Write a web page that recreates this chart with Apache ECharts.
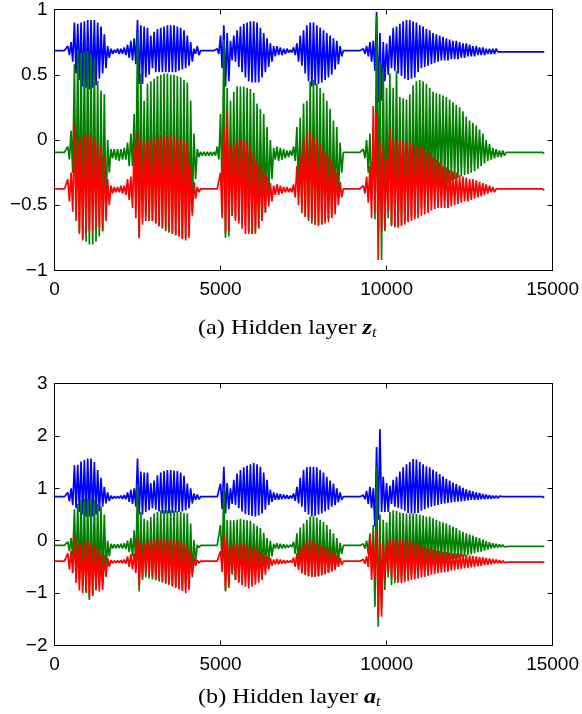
<!DOCTYPE html>
<html>
<head>
<meta charset="utf-8">
<script src="https://cdn.jsdelivr.net/npm/echarts@6/dist/echarts.min.js"></script>
<style>html,body{margin:0;padding:0;background:#fff}#c{width:582px;height:714px}</style>
</head>
<body>
<div id="c"></div>
<script>
// Envelope readings (upper / lower swing of each oscillation) every STEP samples, 0..14700
const STEP = 100;
const xTicks = [0, 5000, 10000, 15000];
const yTicksA = [-1, -0.5, 0, 0.5, 1];
const yTicksB = [-2, -1, 0, 1, 2, 3];
const captionA = ['(a) Hidden layer ', 'z', 't'];
const captionB = ['(b) Hidden layer ', 'a', 't'];

// Panel (a): hidden layer z_t
const zBlueHi = [0.685,0.685,0.685,0.685,0.72,0.75,0.90,0.89,0.90,0.91,
0.92,0.92,0.92,0.90,0.87,0.81,0.72,0.70,0.69,0.70,
0.70,0.71,0.73,0.76,0.78,0.92,0.88,0.87,0.86,0.80,
0.83,0.85,0.86,0.87,0.88,0.88,0.88,0.87,0.86,0.84,
0.80,0.75,0.70,0.72,0.685,0.685,0.685,0.685,0.685,0.70,
0.80,0.88,0.82,0.76,0.80,0.84,0.87,0.89,0.90,0.91,
0.91,0.90,0.86,0.82,0.78,0.74,0.72,0.72,0.71,0.70,
0.70,0.69,0.71,0.74,0.80,0.84,0.88,0.90,0.90,0.88,
0.86,0.84,0.82,0.80,0.78,0.76,0.72,0.685,0.685,0.685,
0.685,0.685,0.685,0.70,0.72,0.75,0.76,0.98,0.82,0.75,
0.74,0.80,0.86,0.87,0.89,0.91,0.92,0.92,0.91,0.90,
0.88,0.87,0.85,0.84,0.82,0.81,0.80,0.79,0.78,0.77,
0.76,0.76,0.75,0.74,0.74,0.73,0.72,0.72,0.71,0.71,
0.70,0.70,0.70,0.70,0.685,0.685,0.685,0.685,0.685,0.685,
0.685,0.685,0.685,0.685,0.685,0.685,0.685,0.685];
const zBlueLo = [0.675,0.675,0.675,0.675,0.65,0.60,0.51,0.46,0.41,0.40,
0.39,0.40,0.42,0.47,0.51,0.55,0.63,0.66,0.67,0.66,
0.66,0.65,0.63,0.61,0.58,0.43,0.43,0.48,0.50,0.55,
0.52,0.52,0.52,0.52,0.52,0.52,0.52,0.53,0.54,0.55,
0.57,0.60,0.66,0.65,0.675,0.675,0.675,0.675,0.675,0.66,
0.55,0.41,0.45,0.61,0.60,0.56,0.52,0.48,0.45,0.44,
0.44,0.44,0.48,0.52,0.56,0.60,0.64,0.65,0.65,0.66,
0.67,0.67,0.65,0.60,0.57,0.51,0.45,0.41,0.42,0.43,
0.44,0.46,0.48,0.50,0.54,0.58,0.64,0.675,0.675,0.675,
0.675,0.675,0.675,0.66,0.64,0.60,0.53,0.29,0.30,0.45,
0.50,0.55,0.53,0.51,0.49,0.47,0.46,0.47,0.48,0.52,
0.55,0.56,0.57,0.58,0.59,0.60,0.61,0.61,0.61,0.62,
0.62,0.62,0.63,0.63,0.64,0.64,0.64,0.65,0.65,0.65,
0.66,0.66,0.66,0.675,0.675,0.675,0.675,0.675,0.675,0.675,
0.675,0.675,0.675,0.675,0.675,0.675,0.675,0.675];
const zGreenHi = [-0.095,-0.095,-0.095,-0.095,-0.05,0.07,0.58,0.69,0.67,0.68,
0.68,0.66,0.62,0.45,0.38,0.35,0.00,-0.07,-0.07,-0.07,
-0.07,-0.06,-0.02,0.05,0.20,0.82,0.51,0.30,0.43,0.45,
0.47,0.49,0.50,0.51,0.51,0.50,0.50,0.49,0.48,0.46,
0.44,0.30,0.05,-0.07,-0.09,-0.09,-0.09,-0.09,-0.09,-0.05,
0.20,0.77,0.40,0.30,0.37,0.41,0.41,0.41,0.40,0.39,
0.36,0.28,0.24,0.20,0.10,0.00,-0.06,-0.05,-0.06,-0.07,
-0.08,-0.08,-0.05,0.10,0.17,0.28,0.30,0.45,0.46,0.43,
0.40,0.36,0.30,0.24,0.15,0.10,-0.02,-0.095,-0.095,-0.095,
-0.095,-0.095,-0.095,-0.07,0.00,0.05,0.00,0.95,0.60,0.55,
0.40,0.51,0.40,0.53,0.33,0.32,0.31,0.35,0.42,0.45,
0.46,0.45,0.43,0.40,0.37,0.36,0.35,0.34,0.33,0.31,
0.29,0.27,0.25,0.22,0.18,0.15,0.13,0.11,0.08,0.05,
0.00,-0.03,-0.06,-0.07,-0.08,-0.08,-0.095,-0.095,-0.095,-0.095,
-0.095,-0.095,-0.095,-0.095,-0.095,-0.095,-0.095,-0.095];
const zGreenLo = [-0.105,-0.105,-0.105,-0.105,-0.15,-0.25,-0.55,-0.70,-0.75,-0.78,
-0.80,-0.80,-0.78,-0.74,-0.70,-0.60,-0.25,-0.14,-0.15,-0.16,
-0.15,-0.15,-0.20,-0.20,-0.45,-0.75,-0.60,-0.58,-0.62,-0.62,
-0.64,-0.66,-0.68,-0.70,-0.71,-0.72,-0.73,-0.74,-0.75,-0.75,
-0.72,-0.55,-0.30,-0.13,-0.12,-0.12,-0.12,-0.12,-0.12,-0.15,
-0.40,-0.75,-0.74,-0.58,-0.60,-0.62,-0.64,-0.66,-0.70,-0.72,
-0.72,-0.68,-0.62,-0.55,-0.45,-0.30,-0.15,-0.16,-0.15,-0.14,
-0.13,-0.12,-0.16,-0.40,-0.50,-0.58,-0.62,-0.64,-0.65,-0.65,
-0.64,-0.62,-0.60,-0.58,-0.52,-0.45,-0.25,-0.105,-0.105,-0.105,
-0.105,-0.105,-0.105,-0.14,-0.25,-0.45,-0.61,-0.50,-0.92,-0.70,
-0.60,-0.66,-0.67,-0.67,-0.65,-0.63,-0.62,-0.60,-0.58,-0.56,
-0.53,-0.51,-0.48,-0.46,-0.43,-0.40,-0.37,-0.35,-0.33,-0.31,
-0.30,-0.29,-0.28,-0.27,-0.26,-0.25,-0.24,-0.22,-0.20,-0.18,
-0.16,-0.15,-0.14,-0.13,-0.13,-0.12,-0.105,-0.105,-0.105,-0.105,
-0.105,-0.105,-0.105,-0.105,-0.105,-0.105,-0.105,-0.105];
const zRedHi = [-0.375,-0.375,-0.375,-0.375,-0.30,-0.25,0.12,0.00,0.02,0.05,
0.04,0.04,0.00,-0.02,-0.05,-0.12,-0.30,-0.35,-0.36,-0.36,
-0.35,-0.35,-0.30,-0.28,-0.05,0.07,0.00,-0.02,0.00,0.00,
0.01,0.02,0.02,0.03,0.03,0.03,0.02,0.02,0.01,0.00,
-0.02,-0.20,-0.32,-0.36,-0.375,-0.375,-0.375,-0.375,-0.375,-0.375,
-0.25,0.10,0.23,-0.05,-0.03,0.00,0.00,0.00,-0.02,-0.05,
-0.10,-0.16,-0.20,-0.24,-0.28,-0.33,-0.35,-0.34,-0.35,-0.36,
-0.36,-0.37,-0.34,-0.20,-0.12,0.00,0.05,0.07,0.03,0.00,
-0.03,-0.07,-0.10,-0.14,-0.18,-0.25,-0.32,-0.375,-0.375,-0.375,
-0.375,-0.375,-0.375,-0.35,-0.28,-0.20,0.26,0.20,0.00,-0.05,
-0.15,0.10,0.00,0.00,0.00,-0.01,-0.01,-0.02,-0.03,-0.04,
-0.05,-0.06,-0.08,-0.10,-0.13,-0.15,-0.17,-0.20,-0.21,-0.23,
-0.24,-0.25,-0.27,-0.28,-0.29,-0.30,-0.30,-0.31,-0.32,-0.33,
-0.34,-0.35,-0.36,-0.375,-0.375,-0.375,-0.375,-0.375,-0.375,-0.375,
-0.375,-0.375,-0.375,-0.375,-0.375,-0.375,-0.375,-0.375];
const zRedLo = [-0.385,-0.385,-0.385,-0.385,-0.47,-0.55,-0.62,-0.72,-0.77,-0.72,
-0.70,-0.70,-0.68,-0.67,-0.70,-0.62,-0.50,-0.41,-0.40,-0.40,
-0.41,-0.42,-0.46,-0.52,-0.60,-0.75,-0.65,-0.62,-0.62,-0.62,
-0.64,-0.66,-0.67,-0.68,-0.70,-0.71,-0.73,-0.74,-0.76,-0.77,
-0.75,-0.58,-0.45,-0.40,-0.385,-0.385,-0.385,-0.385,-0.385,-0.385,
-0.60,-0.72,-0.70,-0.58,-0.62,-0.64,-0.68,-0.72,-0.72,-0.72,
-0.70,-0.67,-0.62,-0.56,-0.51,-0.47,-0.42,-0.42,-0.41,-0.40,
-0.40,-0.40,-0.44,-0.50,-0.56,-0.59,-0.60,-0.62,-0.65,-0.66,
-0.65,-0.64,-0.63,-0.60,-0.57,-0.50,-0.44,-0.385,-0.385,-0.385,
-0.385,-0.385,-0.385,-0.41,-0.48,-0.60,-0.55,-0.92,-0.70,-0.68,
-0.55,-0.65,-0.66,-0.67,-0.66,-0.65,-0.63,-0.62,-0.61,-0.60,
-0.58,-0.57,-0.56,-0.54,-0.53,-0.52,-0.52,-0.52,-0.52,-0.51,
-0.50,-0.49,-0.48,-0.47,-0.47,-0.46,-0.45,-0.44,-0.43,-0.42,
-0.41,-0.40,-0.40,-0.385,-0.385,-0.385,-0.385,-0.385,-0.385,-0.385,
-0.385,-0.385,-0.385,-0.385,-0.385,-0.385,-0.385,-0.385];

// Panel (b): hidden layer a_t
const aBlueHi = [0.84,0.84,0.84,0.84,0.92,1.00,1.44,1.45,1.51,1.54,
1.57,1.57,1.50,1.35,1.20,1.03,0.92,0.86,0.85,0.85,
0.86,0.87,0.92,0.97,1.00,1.57,1.32,1.30,1.30,1.10,
1.15,1.25,1.30,1.33,1.35,1.35,1.34,1.33,1.30,1.24,
1.09,1.00,0.90,0.88,0.84,0.84,0.84,0.84,0.84,0.84,
1.09,1.41,1.10,1.00,1.16,1.28,1.35,1.40,1.43,1.46,
1.48,1.46,1.41,1.30,1.16,0.97,0.92,0.90,0.89,0.88,
0.87,0.86,0.90,1.03,1.20,1.35,1.40,1.41,1.41,1.40,
1.35,1.30,1.22,1.15,1.09,1.00,0.92,0.84,0.84,0.84,
0.84,0.84,0.84,0.87,0.95,1.03,1.00,1.79,2.13,1.22,
1.10,1.05,1.16,1.22,1.32,1.40,1.46,1.50,1.56,1.55,
1.50,1.46,1.42,1.40,1.36,1.32,1.27,1.23,1.18,1.15,
1.11,1.08,1.05,1.01,0.98,0.96,0.94,0.92,0.91,0.89,
0.88,0.87,0.86,0.86,0.85,0.84,0.84,0.84,0.84,0.84,
0.84,0.84,0.84,0.84,0.84,0.84,0.84,0.84];
const aBlueLo = [0.82,0.82,0.82,0.82,0.75,0.68,0.62,0.55,0.50,0.46,
0.46,0.46,0.50,0.56,0.65,0.71,0.76,0.80,0.81,0.81,
0.80,0.79,0.74,0.70,0.65,0.50,0.50,0.55,0.58,0.62,
0.59,0.56,0.52,0.52,0.52,0.53,0.54,0.55,0.56,0.58,
0.62,0.71,0.78,0.79,0.82,0.82,0.82,0.82,0.82,0.82,
0.60,0.52,0.60,0.70,0.68,0.62,0.56,0.51,0.49,0.47,
0.46,0.48,0.52,0.59,0.68,0.74,0.78,0.78,0.79,0.80,
0.80,0.81,0.76,0.71,0.65,0.55,0.50,0.46,0.47,0.50,
0.52,0.56,0.59,0.65,0.68,0.73,0.78,0.82,0.82,0.82,
0.82,0.82,0.82,0.79,0.70,0.62,0.27,0.40,0.55,0.55,
0.55,0.70,0.65,0.63,0.60,0.57,0.53,0.52,0.52,0.53,
0.57,0.60,0.63,0.65,0.67,0.68,0.70,0.71,0.72,0.73,
0.74,0.745,0.75,0.76,0.77,0.78,0.78,0.78,0.79,0.79,
0.80,0.80,0.81,0.81,0.82,0.82,0.82,0.82,0.82,0.82,
0.82,0.82,0.82,0.82,0.82,0.82,0.82,0.82];
const aGreenHi = [-0.09,-0.09,-0.09,-0.09,-0.02,0.05,0.60,0.70,0.78,0.80,
0.81,0.80,0.78,0.70,0.65,0.50,0.00,-0.06,-0.07,-0.07,
-0.06,-0.05,0.00,0.05,0.20,1.09,0.55,0.42,0.39,0.45,
0.52,0.55,0.58,0.58,0.58,0.58,0.57,0.56,0.55,0.53,
0.52,0.33,0.01,-0.08,-0.09,-0.09,-0.09,-0.09,-0.09,-0.09,
0.30,1.03,0.40,0.39,0.39,0.40,0.42,0.40,0.39,0.38,
0.33,0.28,0.24,0.15,0.05,0.00,-0.06,-0.05,-0.06,-0.07,
-0.08,-0.08,-0.02,0.14,0.25,0.33,0.40,0.46,0.46,0.44,
0.40,0.36,0.30,0.22,0.14,0.05,-0.04,-0.09,-0.09,-0.09,
-0.09,-0.09,-0.09,-0.06,0.00,0.10,0.30,1.41,0.50,0.40,
0.35,0.55,0.58,0.57,0.54,0.53,0.52,0.52,0.52,0.51,
0.50,0.48,0.46,0.46,0.43,0.40,0.37,0.35,0.33,0.30,
0.27,0.24,0.20,0.17,0.14,0.12,0.10,0.07,0.05,0.02,
-0.01,-0.03,-0.05,-0.06,-0.07,-0.08,-0.09,-0.09,-0.09,-0.09,
-0.09,-0.09,-0.09,-0.09,-0.09,-0.09,-0.09,-0.09];
const aGreenLo = [-0.11,-0.11,-0.11,-0.11,-0.20,-0.30,-0.56,-0.75,-0.88,-1.00,
-1.13,-1.05,-0.95,-0.85,-0.80,-0.60,-0.30,-0.15,-0.14,-0.14,
-0.15,-0.16,-0.22,-0.30,-0.50,-0.97,-0.75,-0.70,-0.72,-0.74,
-0.76,-0.78,-0.80,-0.82,-0.84,-0.86,-0.88,-0.90,-0.92,-0.92,
-0.90,-0.70,-0.40,-0.13,-0.11,-0.11,-0.11,-0.11,-0.11,-0.11,
-0.50,-0.97,-0.90,-0.65,-0.75,-0.78,-0.75,-0.72,-0.70,-0.68,
-0.65,-0.60,-0.55,-0.48,-0.40,-0.30,-0.15,-0.16,-0.15,-0.14,
-0.13,-0.12,-0.25,-0.50,-0.62,-0.65,-0.68,-0.69,-0.69,-0.68,
-0.66,-0.64,-0.60,-0.56,-0.50,-0.40,-0.25,-0.11,-0.11,-0.11,
-0.11,-0.11,-0.11,-0.15,-0.25,-0.50,-1.26,-1.64,-1.30,-0.94,
-0.70,-0.85,-0.81,-0.80,-0.77,-0.73,-0.70,-0.68,-0.64,-0.60,
-0.57,-0.54,-0.51,-0.49,-0.47,-0.44,-0.41,-0.39,-0.37,-0.35,
-0.34,-0.33,-0.31,-0.30,-0.27,-0.26,-0.24,-0.22,-0.21,-0.19,
-0.17,-0.15,-0.14,-0.13,-0.12,-0.12,-0.11,-0.11,-0.11,-0.11,
-0.11,-0.11,-0.11,-0.11,-0.11,-0.11,-0.11,-0.11];
const aRedHi = [-0.39,-0.39,-0.39,-0.39,-0.24,-0.20,0.11,-0.05,-0.05,-0.03,
-0.02,-0.02,-0.10,-0.15,-0.24,-0.28,-0.33,-0.37,-0.38,-0.38,
-0.37,-0.36,-0.30,-0.26,-0.24,0.08,-0.05,-0.05,0.00,0.01,
0.02,0.03,0.04,0.04,0.03,0.02,0.01,0.00,-0.02,-0.05,
-0.10,-0.20,-0.33,-0.37,-0.39,-0.39,-0.39,-0.39,-0.39,-0.39,
-0.20,0.14,0.00,-0.11,-0.07,-0.05,-0.05,-0.06,-0.08,-0.10,
-0.12,-0.15,-0.20,-0.25,-0.30,-0.33,-0.36,-0.35,-0.36,-0.37,
-0.38,-0.38,-0.32,-0.24,-0.15,-0.05,0.00,0.01,-0.02,-0.05,
-0.08,-0.11,-0.15,-0.18,-0.22,-0.28,-0.33,-0.39,-0.39,-0.39,
-0.39,-0.39,-0.39,-0.36,-0.30,0.14,0.00,0.20,0.00,-0.05,
-0.10,0.08,0.03,0.01,0.04,0.02,0.01,0.00,-0.03,-0.06,
-0.08,-0.11,-0.14,-0.15,-0.17,-0.19,-0.20,-0.21,-0.22,-0.23,
-0.24,-0.245,-0.25,-0.26,-0.27,-0.28,-0.29,-0.30,-0.31,-0.32,
-0.33,-0.34,-0.35,-0.36,-0.37,-0.38,-0.39,-0.39,-0.39,-0.39,
-0.39,-0.39,-0.39,-0.39,-0.39,-0.39,-0.39,-0.39];
const aRedLo = [-0.41,-0.41,-0.41,-0.41,-0.55,-0.62,-0.81,-0.95,-1.00,-0.97,
-1.07,-1.05,-0.94,-0.97,-0.94,-0.69,-0.50,-0.43,-0.42,-0.42,
-0.43,-0.44,-0.50,-0.55,-0.62,-0.88,-0.70,-0.62,-0.66,-0.69,
-0.72,-0.75,-0.78,-0.81,-0.84,-0.88,-0.90,-0.93,-0.96,-1.00,
-0.94,-0.65,-0.48,-0.43,-0.41,-0.41,-0.41,-0.41,-0.41,-0.41,
-0.60,-0.94,-0.85,-0.62,-0.75,-0.80,-0.85,-0.88,-0.91,-0.88,
-0.84,-0.80,-0.75,-0.65,-0.55,-0.48,-0.45,-0.45,-0.44,-0.43,
-0.42,-0.42,-0.50,-0.56,-0.62,-0.65,-0.68,-0.69,-0.69,-0.68,
-0.66,-0.64,-0.62,-0.59,-0.56,-0.50,-0.46,-0.41,-0.41,-0.41,
-0.41,-0.41,-0.41,-0.44,-0.50,-0.75,-0.70,-1.45,-1.45,-0.75,
-0.60,-0.70,-0.75,-0.79,-0.81,-0.79,-0.77,-0.75,-0.74,-0.72,
-0.70,-0.69,-0.67,-0.65,-0.64,-0.62,-0.61,-0.60,-0.59,-0.57,
-0.56,-0.55,-0.54,-0.53,-0.52,-0.51,-0.50,-0.49,-0.48,-0.47,
-0.46,-0.45,-0.44,-0.43,-0.43,-0.42,-0.41,-0.41,-0.41,-0.41,
-0.41,-0.41,-0.41,-0.41,-0.41,-0.41,-0.41,-0.41];

const COLORS = {blue: '#0000ff', green: '#008000', red: '#ff0000'};

function zigzag(hi, lo) {
  const out = [];
  for (let i = 0; i < hi.length; i++) {
    out.push([i * STEP, hi[i]]);
    out.push([i * STEP + STEP / 2, lo[i]]);
  }
  return out;
}

const tickFont = 'Liberation Sans, Arial, Helvetica, sans-serif';
const fmt = v => String(v).replace('-', '\u2212');

function xAxes(g) {
  const base = {gridIndex: g, type: 'value', min: xTicks[0], max: xTicks[xTicks.length - 1],
    interval: xTicks[1] - xTicks[0], splitLine: {show: false},
    axisLine: {show: true, onZero: false, lineStyle: {color: '#000', width: 1}},
    axisTick: {show: true, inside: true, length: 5, lineStyle: {color: '#000'}}};
  return [
    Object.assign({}, base, {position: 'bottom',
      axisLabel: {show: true, color: '#000', fontSize: 19, fontFamily: tickFont, margin: 10, formatter: fmt}}),
    Object.assign({}, base, {position: 'top', axisLabel: {show: false}})
  ];
}
function yAxes(g, ticks) {
  const base = {gridIndex: g, type: 'value', min: ticks[0], max: ticks[ticks.length - 1],
    interval: ticks[1] - ticks[0], splitLine: {show: false},
    axisLine: {show: true, onZero: false, lineStyle: {color: '#000', width: 1}},
    axisTick: {show: true, inside: true, length: 5, lineStyle: {color: '#000'}}};
  return [
    Object.assign({}, base, {position: 'left',
      axisLabel: {show: true, color: '#000', fontSize: 19, fontFamily: tickFont, margin: 7, formatter: fmt}}),
    Object.assign({}, base, {position: 'right', axisLabel: {show: false}})
  ];
}

function line(g, hi, lo, color) {
  return {type: 'line', xAxisIndex: g * 2, yAxisIndex: g * 2, data: zigzag(hi, lo),
    showSymbol: false, symbol: 'none', lineStyle: {color: color, width: 1.7}, silent: true};
}

function caption(parts, top) {
  return {type: 'text', left: 198, top: top, silent: true, scaleX: 1.1,
    style: {text: parts[0] + '{s|' + parts[1] + '}{u|' + parts[2] + '}',
      fontFamily: 'Liberation Serif, Times New Roman, serif', fontSize: 22, fill: '#000',
      rich: {
        s: {fontFamily: 'Liberation Serif, serif', fontSize: 22, fontStyle: 'italic', fontWeight: 'bold', fill: '#000'},
        u: {fontFamily: 'Liberation Serif, serif', fontSize: 15, fontStyle: 'italic', fill: '#000', padding: [10, 0, 0, 0]}
      }}};
}

const chart = echarts.init(document.getElementById('c'), null, {renderer: 'canvas'});
chart.setOption({
  animation: false,
  backgroundColor: '#fff',
  grid: [
    {left: 54.5, top: 9.5, width: 498.5, height: 261, show: false},
    {left: 54.5, top: 383.5, width: 498.5, height: 262, show: false}
  ],
  xAxis: xAxes(0).concat(xAxes(1)),
  yAxis: yAxes(0, yTicksA).concat(yAxes(1, yTicksB)),
  series: [
    line(0, zBlueHi, zBlueLo, COLORS.blue),
    line(0, zGreenHi, zGreenLo, COLORS.green),
    line(0, zRedHi, zRedLo, COLORS.red),
    line(1, aBlueHi, aBlueLo, COLORS.blue),
    line(1, aGreenHi, aGreenLo, COLORS.green),
    line(1, aRedHi, aRedLo, COLORS.red)
  ],
  graphic: [caption(captionA, 317), caption(captionB, 686)]
});
</script>
</body>
</html>
